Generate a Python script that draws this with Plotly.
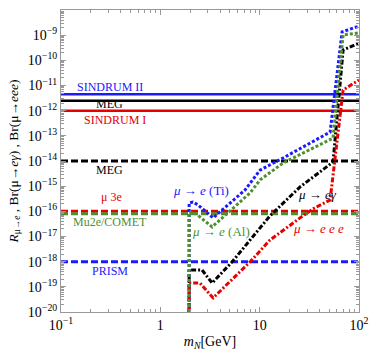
import plotly.graph_objects as go

# ---- data ----
limit_names = ["SINDRUM II", "MEG", "SINDRUM I", "MEG (future)", "mu3e", "Mu2e/COMET", "PRISM"]
limit_values = [4.5e-12, 2.5e-12, 1.0e-12, 1.0e-14, 1.0e-16, 8.0e-17, 1.0e-18]
limit_colors = ["#1a1aff", "#000000", "#e60000", "#000000", "#e60000", "#4f8f2f", "#1a1aff"]
limit_solid = [True, True, True, False, False, False, False]

mass_ti = [1.95, 1.95, 2.13, 2.40, 3.40, 7.13, 10.1, 17.2, 51.2, 67.6, 100]
br_ti = [1e-20, 10**-15.67, 10**-15.63, 10**-15.75, 10**-16.26, 10**-15.15, 10**-14.36,
         10**-13.88, 10**-12.85, 10**-8.87, 10**-8.64]

mass_al = [1.95, 1.95, 2.29, 3.32, 8.0, 10.1, 17.2, 54.8, 69.2, 100]
br_al = [1e-20, 10**-16.03, 10**-16.1, 10**-16.62, 10**-15.27, 10**-14.75, 10**-14.08,
         10**-13.09, 10**-8.99, 10**-8.91]

mass_eg = [1.95, 1.95, 2.63, 3.32, 5.27, 12.7, 25.5, 54.8, 69.2, 100]
br_eg = [1e-20, 10**-18.33, 10**-18.33, 10**-18.85, 10**-18.01, 10**-16.18, 10**-15.03,
         10**-14.04, 10**-9.59, 10**-9.31]

mass_eee = [1.95, 1.95, 2.51, 3.40, 8.0, 12.7, 25.5, 34.5, 51.2, 64.5, 69.2, 100]
br_eee = [1e-20, 10**-18.85, 10**-18.85, 10**-19.44, 10**-18.01, 10**-17.14, 10**-16.26,
          10**-15.9, 10**-15.55, 10**-12.37, 10**-11.18, 10**-10.78]

x_range = [0.1, 100]
y_decades = list(range(-20, -7))
x_tickvals = [0.1, 1, 10, 100]
x_ticktext = ["10<sup>−1</sup>", "1", "10", "10<sup>2</sup>"]

FONT = "Liberation Serif"
DASHDOT = "5px,2px,2px,2px"

fig = go.Figure()

# horizontal limits
for name, v, c, solid in zip(limit_names, limit_values, limit_colors, limit_solid):
    fig.add_trace(go.Scatter(
        x=x_range, y=[v, v], mode="lines", name=name,
        line=dict(color=c, width=2.5 if solid else 3, dash="solid" if solid else "7px,3px"),
        showlegend=False, hoverinfo="skip"))

# curves
fig.add_trace(go.Scatter(x=mass_eg, y=br_eg, mode="lines",
                         line=dict(color="#000000", width=3, dash=DASHDOT), showlegend=False))
fig.add_trace(go.Scatter(x=mass_eee, y=br_eee, mode="lines",
                         line=dict(color="#e60000", width=3, dash=DASHDOT), showlegend=False))
fig.add_trace(go.Scatter(x=mass_ti, y=br_ti, mode="lines",
                         line=dict(color="#1a1aff", width=3, dash="3px,2px"), showlegend=False))
fig.add_trace(go.Scatter(x=mass_al, y=br_al, mode="lines",
                         line=dict(color="#4f8f2f", width=3, dash="3px,2px"), showlegend=False))

# labels
labels = [
    ("SINDRUM II", -0.507, -11.06, "#1a1aff", 12),
    ("MEG", -0.507, -11.73, "#000000", 12),
    ("SINDRUM I", -0.456, -12.36, "#e60000", 12),
    ("MEG", -0.507, -14.36, "#000000", 12),
    ("μ 3e", -0.496, -15.43, "#e60000", 12),
    ("Mu2e/COMET", -0.507, -16.42, "#4f8f2f", 12),
    ("PRISM", -0.507, -18.37, "#1a1aff", 12),
    ("<i>μ</i> → <i>e</i> (Ti)", 0.41, -15.19, "#1a1aff", 13),
    ("<i>μ</i> → <i>e</i> (Al)", 0.611, -16.82, "#4f8f2f", 13),
    ("<i>μ</i> → <i>eγ</i>", 1.578, -15.35, "#000000", 13),
    ("<i>μ</i> → <i>e e e</i>", 1.588, -16.70, "#e60000", 13),
]
for t, x, y, c, s in labels:
    fig.add_annotation(x=x, y=y, xref="x", yref="y", text=t, showarrow=False,
                       font=dict(family=FONT, size=s, color=c))

minor_x = [m * 10**d for d in range(-1, 2) for m in range(2, 10)]
minor_y = [m * 10.0**d for d in range(-20, -8) for m in range(2, 10)]

fig.update_xaxes(
    type="log", range=[-1, 2], tickmode="array", tickvals=x_tickvals, ticktext=x_ticktext,
    ticks="inside", ticklen=5, tickcolor="#999999", showline=True, linecolor="#999999",
    linewidth=1, mirror="allticks", showgrid=False, zeroline=False,
    tickfont=dict(family=FONT, size=14, color="#000000"),
    minor=dict(tickmode="array", tickvals=minor_x, ticks="inside", ticklen=3, tickcolor="#999999", showgrid=False),
    title=dict(text="<i>m</i><sub><i>N</i></sub>[GeV]", font=dict(family=FONT, size=14, color="#000000"), standoff=4),
)
fig.update_yaxes(
    type="log", range=[-20, -8], tickmode="array",
    tickvals=[10.0**d for d in y_decades if d <= -9],
    ticktext=["10<sup>−%d</sup>" % (-d) for d in y_decades if d <= -9],
    ticks="inside", ticklen=5, tickcolor="#999999", showline=True, linecolor="#999999",
    linewidth=1, mirror="allticks", showgrid=False, zeroline=False,
    tickfont=dict(family=FONT, size=14, color="#000000"),
    minor=dict(tickmode="array", tickvals=minor_y, ticks="inside", ticklen=3, tickcolor="#999999", showgrid=False),
    title=dict(text="<i>R</i><sub>μ→<i>e</i></sub> , Br(μ→<i>eγ</i>) , Br(μ→<i>eee</i>)",
               font=dict(family=FONT, size=13.5, color="#000000"), standoff=6),
)
fig.update_layout(
    width=370, height=358, margin=dict(l=61, r=11, t=10, b=46, autoexpand=False),
    paper_bgcolor="white", plot_bgcolor="white", showlegend=False,
)
fig.write_html("out.html")
